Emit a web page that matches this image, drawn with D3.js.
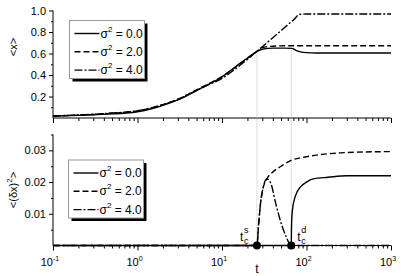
<!DOCTYPE html>
<html>
<head>
<meta charset="utf-8">
<script src="https://cdn.jsdelivr.net/npm/d3@7"></script>
<style>
  body { margin: 0; background: #fff; }
  svg { display: block; font-family: "Liberation Sans", Arial, sans-serif; }
</style>
</head>
<body>
<div id="chart"></div>
<script>
// series labels (sigma^2)
const sigmas = ["0.0", "2.0", "4.0"];
const dashes = [null, "6,3", "8,2,2,2"];

// top panel: <x> vs t
const tSolidTop = [0.1, 0.2, 0.3, 0.5, 0.8, 1, 1.5, 2, 3, 5, 7, 10, 13, 16, 20, 25.9, 30, 40, 55, 67, 75, 85, 100, 130, 200, 500, 1000];
const xSolidTop = [0.018, 0.024, 0.029, 0.038, 0.049, 0.058, 0.088, 0.117, 0.168, 0.255, 0.315, 0.383, 0.448, 0.503, 0.558, 0.62, 0.64, 0.65, 0.65, 0.648, 0.63, 0.615, 0.608, 0.605, 0.605, 0.605, 0.605];
const tDashTop = [0.1, 0.2, 0.3, 0.5, 0.8, 1, 1.5, 2, 3, 5, 7, 10, 13, 16, 20, 25.9, 30, 40, 60, 100, 1000];
const xDashTop = [0.019, 0.027, 0.033, 0.044, 0.056, 0.065, 0.096, 0.125, 0.175, 0.262, 0.32, 0.385, 0.448, 0.5, 0.555, 0.62, 0.655, 0.668, 0.672, 0.672, 0.672];
const tDotTop = [0.1, 0.2, 0.3, 0.5, 0.8, 1, 1.5, 2, 3, 5, 7, 10, 13, 16, 20, 25.9, 35, 50, 70, 84, 100, 1000];
const xDotTop = [0.019, 0.028, 0.035, 0.046, 0.058, 0.067, 0.097, 0.124, 0.172, 0.258, 0.31, 0.368, 0.43, 0.485, 0.545, 0.62, 0.708, 0.813, 0.912, 0.965, 0.967, 0.967];

// bottom panel: <(dx)^2> vs t
const tSolidBot = [0.1, 66, 66.5, 68, 73.6, 85, 100, 120, 180, 300, 1000];
const vSolidBot = [0, 0, 0.006, 0.011, 0.0155, 0.0185, 0.02, 0.021, 0.0215, 0.022, 0.022];
const tDashBot = [0.1, 25.9, 27, 28.5, 30, 34, 40, 50, 64, 100, 150, 250, 500, 1000];
const vDashBot = [0, 0, 0.006, 0.013, 0.017, 0.021, 0.0232, 0.025, 0.0267, 0.028, 0.0287, 0.0292, 0.0295, 0.0296];
const tDotBot = [0.1, 25.9, 27, 28.5, 30, 34, 38, 43, 51.6, 57, 63, 66, 1000];
const vDotBot = [0, 0, 0.006, 0.013, 0.017, 0.021, 0.0195, 0.0135, 0.006, 0.003, 0.0005, 0, 0];

// critical times
const tCrit = [25.9, 66];
const critLabels = ["s", "d"];

const xTicks = [0.1, 1, 10, 100, 1000];
const xExp = ["-1", "0", "1", "2", "3"];
const yTopTicks = [0.2, 0.4, 0.6, 0.8, 1.0];
const yBotTicks = [0.01, 0.02, 0.03];

const width = 401, height = 276;
const svg = d3.select("#chart").append("svg")
    .attr("width", width)
    .attr("height", height);

const x = d3.scaleLog().domain([0.1, 1000]).range([53, 391]);
const yTop = d3.scaleLinear().domain([0, 1]).range([118, 10.5]);
const yBot = d3.scaleLinear().domain([0, 0.035]).range([245.5, 134.5]);

// minor log ticks
const minorX = [];
for (let e = -1; e < 3; e++) {
    for (let k = 2; k <= 9; k++) minorX.push(k * Math.pow(10, e));
}

function drawXAxis(y0, withLabels) {
    const g = svg.append("g").attr("transform", `translate(0,${y0})`);
    g.append("g")
        .call(d3.axisBottom(x).tickValues(minorX).tickSize(3).tickFormat(""))
        .call(a => a.select(".domain").remove());
    const major = g.append("g")
        .call(d3.axisBottom(x).tickValues(xTicks).tickSize(5).tickFormat(""));
    major.select(".domain").attr("d", `M${x.range()[0]},0H${x.range()[1]}`);
    g.selectAll("line, path").attr("stroke", "#000");
    if (withLabels) {
        xTicks.forEach((t, i) => {
            const txt = g.append("text")
                .attr("x", x(t) - 3)
                .attr("y", 20)
                .attr("text-anchor", "middle")
                .attr("font-size", 11)
                .text("10");
            txt.append("tspan")
                .attr("dy", -5)
                .attr("font-size", 7)
                .text(xExp[i]);
        });
    }
}

function drawYAxis(scale, ticks, minor, fmt) {
    const g = svg.append("g").attr("transform", "translate(53,0)");
    g.append("g")
        .call(d3.axisLeft(scale).tickValues(minor).tickSize(2).tickFormat(""))
        .call(a => a.select(".domain").remove());
    const major = g.append("g")
        .call(d3.axisLeft(scale).tickValues(ticks).tickSize(4).tickFormat(fmt));
    major.select(".domain").attr("d", `M0,${scale.range()[0]}V${scale.range()[1]}`);
    major.selectAll("text").attr("font-size", 11).attr("fill", "#000")
        .attr("font-family", "Liberation Sans, Arial, sans-serif");
    g.selectAll("line, path").attr("stroke", "#000");
}

drawXAxis(118, false);
drawXAxis(245.5, true);
drawYAxis(yTop, yTopTicks, [0.1, 0.3, 0.5, 0.7, 0.9], d3.format(".1f"));
drawYAxis(yBot, yBotTicks, [0.005, 0.015, 0.025, 0.035], d3.format(".2f"));

// dotted guide lines at critical times
tCrit.forEach(t => {
    svg.append("line")
        .attr("x1", x(t)).attr("x2", x(t))
        .attr("y1", yTop(t < 30 ? 0.62 : 0.648)).attr("y2", yBot(0))
        .attr("stroke", "#aaa")
        .attr("stroke-width", 0.8)
        .attr("stroke-dasharray", "1,1");
});

function drawSeries(ts, vs, yScale, dash) {
    const pts = ts.map((t, i) => [t, vs[i]]);
    svg.append("path")
        .datum(pts)
        .attr("fill", "none")
        .attr("stroke", "#000")
        .attr("stroke-width", 1.4)
        .attr("stroke-dasharray", dash)
        .attr("d", d3.line()
            .x(d => x(d[0]))
            .y(d => yScale(d[1]))
            .curve(d3.curveMonotoneX));
}

drawSeries(tSolidTop, xSolidTop, yTop, dashes[0]);
drawSeries(tDashTop, xDashTop, yTop, dashes[1]);
drawSeries(tDotTop, xDotTop, yTop, dashes[2]);

drawSeries(tSolidBot, vSolidBot, yBot, dashes[0]);
drawSeries(tDashBot, vDashBot, yBot, dashes[1]);
drawSeries(tDotBot, vDotBot, yBot, dashes[2]);

// critical points and labels
tCrit.forEach((t, i) => {
    svg.append("circle")
        .attr("cx", x(t)).attr("cy", yBot(0))
        .attr("r", 4)
        .attr("fill", "#000");
    const lx = i === 0 ? x(t) - 17 : x(t) + 6;
    svg.append("text")
        .attr("x", lx).attr("y", 241)
        .attr("font-size", 12)
        .text("t");
    svg.append("text")
        .attr("x", lx + 4).attr("y", 244)
        .attr("font-size", 9)
        .text("c");
    svg.append("text")
        .attr("x", lx + 4).attr("y", 233)
        .attr("font-size", 9)
        .text(critLabels[i]);
});

// legends
function drawLegend(x0, y0) {
    const w = 75, h = 58;
    svg.append("rect")
        .attr("x", x0 + 3).attr("y", y0 + 3)
        .attr("width", w).attr("height", h)
        .attr("fill", "#000");
    svg.append("rect")
        .attr("x", x0).attr("y", y0)
        .attr("width", w).attr("height", h)
        .attr("fill", "#fff")
        .attr("stroke", "#999")
        .attr("stroke-width", 1);
    sigmas.forEach((s, i) => {
        const ry = y0 + 13 + i * 18.3;
        svg.append("line")
            .attr("x1", x0 + 5).attr("x2", x0 + 30)
            .attr("y1", ry).attr("y2", ry)
            .attr("stroke", "#000")
            .attr("stroke-width", 1.4)
            .attr("stroke-dasharray", dashes[i]);
        const txt = svg.append("text")
            .attr("x", x0 + 31).attr("y", ry + 4)
            .attr("font-size", 12)
            .text("σ");
        txt.append("tspan").attr("dy", -6).attr("font-size", 8).text("2");
        txt.append("tspan").attr("dy", 6).text(" = " + s);
    });
}
drawLegend(69.5, 20.5);
drawLegend(68.5, 160);

// axis titles
svg.append("text")
    .attr("transform", "translate(17,47) rotate(-90)")
    .attr("text-anchor", "middle")
    .attr("font-size", 11)
    .text("<x>");
const yl = svg.append("text")
    .attr("transform", "translate(17,190) rotate(-90)")
    .attr("text-anchor", "middle")
    .attr("font-size", 11)
    .text("<(δx)");
yl.append("tspan").attr("dy", -5).attr("font-size", 8).text("2");
yl.append("tspan").attr("dy", 5).text(">");

svg.append("text")
    .attr("x", 257).attr("y", 273)
    .attr("text-anchor", "middle")
    .attr("font-size", 12)
    .text("t");
</script>
</body>
</html>
